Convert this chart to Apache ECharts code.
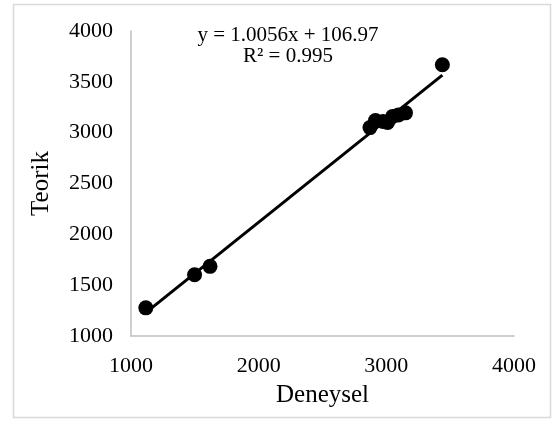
<!DOCTYPE html>
<html>
<head>
<meta charset="utf-8">
<script src="https://cdn.jsdelivr.net/npm/echarts@6/dist/echarts.min.js"></script>
<style>
  html, body { margin: 0; padding: 0; background: #fff; }
  #chart { width: 553px; height: 426px; }
</style>
</head>
<body>
<div id="chart"></div>
<script>
// measured (Deneysel) vs calculated (Teorik)
var deneysel = [1116, 1498, 1619, 2872, 2915, 2975, 3010, 3050, 3095, 3150, 3439];
var teorik = [1277, 1603, 1685, 3050, 3120, 3110, 3100, 3160, 3175, 3195, 3668];
var slope = 1.0056, intercept = 106.97;
var eqText = ["y = 1.0056x + 106.97", "R\u00b2 = 0.995"];

var font = "'Liberation Serif', 'Times New Roman', serif";

var points = deneysel.map(function (x, i) { return [x, teorik[i]]; });
var xMin = Math.min.apply(null, deneysel), xMax = Math.max.apply(null, deneysel);
var trend = [[xMin, slope * xMin + intercept], [xMax, slope * xMax + intercept]];

// no thousands separator, like the original
function plain(v) { return String(v); }

var chart = echarts.init(document.getElementById("chart"));
chart.setOption({
    backgroundColor: "#fff",
    animation: false,
    grid: { left: 131, right: 39, top: 31, bottom: 90 },
    xAxis: {
        type: "value", min: 1000, max: 4000, interval: 1000,
        name: "Deneysel", nameLocation: "middle", nameGap: 47,
        nameTextStyle: { fontFamily: font, fontSize: 25, color: "#000" },
        axisLine: { show: true, lineStyle: { color: "#BFBFBF", width: 1.5 } },
        axisTick: { show: false },
        splitLine: { show: false },
        axisLabel: { fontFamily: font, fontSize: 22, color: "#000", margin: 19, formatter: plain }
    },
    yAxis: {
        type: "value", min: 1000, max: 4000, interval: 500,
        name: "Teorik", nameLocation: "middle", nameGap: 77,
        nameTextStyle: { fontFamily: font, fontSize: 25, color: "#000" },
        axisLine: { show: true, lineStyle: { color: "#BFBFBF", width: 1.5 } },
        axisTick: { show: false },
        splitLine: { show: false },
        axisLabel: { fontFamily: font, fontSize: 22, color: "#000", margin: 18, formatter: plain }
    },
    graphic: [
        {
            type: "rect", silent: true, z: -1,
            shape: { x: 13.5, y: 4.5, width: 537, height: 413 },
            style: { fill: null, stroke: "#D9D9D9", lineWidth: 1.5 }
        },
        {
            type: "text", x: 288, y: 35,
            style: { text: eqText[0], font: "21px " + font, fill: "#000", align: "center", verticalAlign: "middle" }
        },
        {
            type: "text", x: 288, y: 56,
            style: { text: eqText[1], font: "21px " + font, fill: "#000", align: "center", verticalAlign: "middle" }
        }
    ],
    series: [
        {
            type: "line", data: trend, showSymbol: false, z: 3,
            lineStyle: { color: "#000", width: 3 }
        },
        {
            type: "scatter", data: points, symbolSize: 15, z: 4,
            itemStyle: { color: "#000", opacity: 1 }
        }
    ]
});
</script>
</body>
</html>
